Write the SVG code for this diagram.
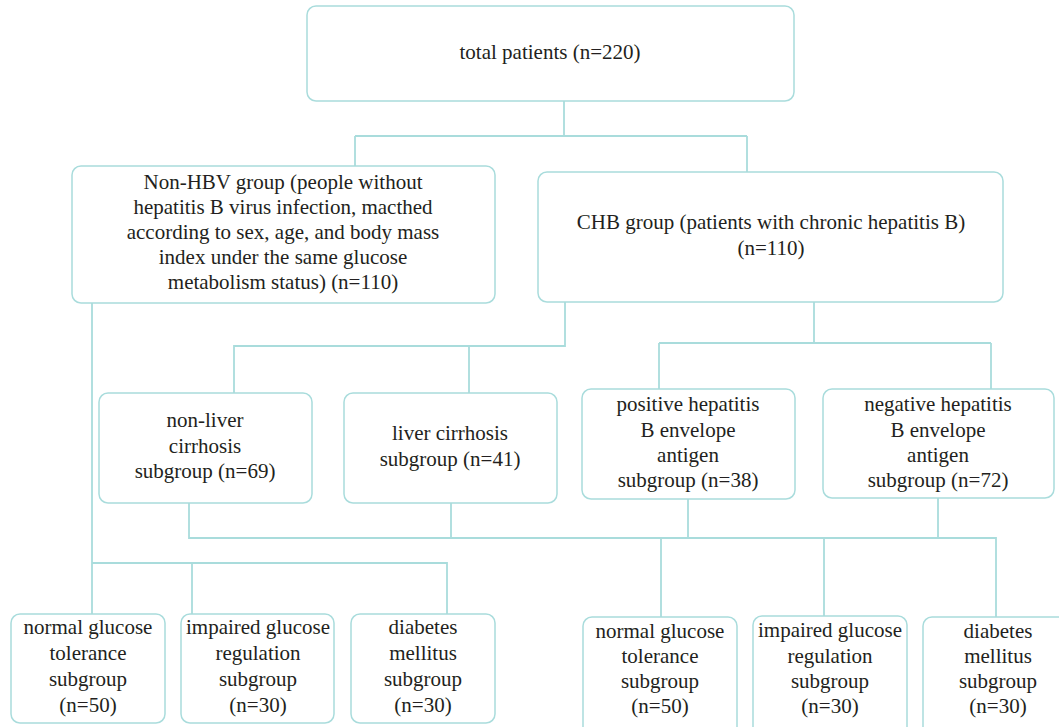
<svg xmlns="http://www.w3.org/2000/svg" width="1059" height="727" viewBox="0 0 1059 727">
<style>
.box{fill:#ffffff;stroke:#a9dcdc;stroke-width:1.5}
.ln{fill:none;stroke:#a9dcdc;stroke-width:1.8}
.t{fill:#231f20}
</style>
<rect width="1059" height="727" fill="#ffffff"/>
<g id="connectors">
<path class="ln" d="M564,101 V136 M355,136 H747 M355,136 V166 M747,136 V172"/>
<path class="ln" d="M565,302 V346 H234 V393 M469,346 V393"/>
<path class="ln" d="M814,302 V343 M659,343 H991 M659,343 V389 M991,343 V389"/>
<path class="ln" d="M92,303 V614 M92,563 H447 V614 M192,563 V614"/>
<path class="ln" d="M189,503 V538 H996 V617 M451,503 V538 M688,499 V538 M938,498 V538 M661,538 V617 M824,538 V616"/>
</g>
<g class="t" font-family="Liberation Serif, DejaVu Serif, serif" font-size="21" text-anchor="middle">
<g id="total">
<rect class="box" x="307" y="6" width="487" height="95" rx="9"/>
<text x="550" y="59">total patients (n=220)</text>
</g>
<g id="nonhbv">
<rect class="box" x="72" y="166" width="423" height="137" rx="9"/>
<text x="283" y="189">Non-HBV group (people without</text>
<text x="283" y="214">hepatitis B virus infection, macthed</text>
<text x="283" y="239">according to sex, age, and body mass</text>
<text x="283" y="264">index under the same glucose</text>
<text x="283" y="289">metabolism status) (n=110)</text>
</g>
<g id="chb">
<rect class="box" x="538" y="172" width="465" height="130" rx="9"/>
<text x="771" y="229">CHB group (patients with chronic hepatitis B)</text>
<text x="771" y="255">(n=110)</text>
</g>
<g id="nonliver">
<rect class="box" x="99" y="393" width="213" height="110" rx="9"/>
<text x="205" y="427">non-liver</text>
<text x="205" y="453">cirrhosis</text>
<text x="205" y="478">subgroup (n=69)</text>
</g>
<g id="liver">
<rect class="box" x="344" y="393" width="213" height="110" rx="9"/>
<text x="450" y="440">liver cirrhosis</text>
<text x="450" y="466">subgroup (n=41)</text>
</g>
<g id="positive">
<rect class="box" x="582" y="389" width="213" height="110" rx="9"/>
<text x="688" y="411">positive hepatitis</text>
<text x="688" y="437">B envelope</text>
<text x="688" y="462">antigen</text>
<text x="688" y="487">subgroup (n=38)</text>
</g>
<g id="negative">
<rect class="box" x="823" y="389" width="231" height="109" rx="9"/>
<text x="938" y="411">negative hepatitis</text>
<text x="938" y="437">B envelope</text>
<text x="938" y="462">antigen</text>
<text x="938" y="487">subgroup (n=72)</text>
</g>
<g id="ngt1">
<rect class="box" x="11" y="614" width="154" height="109" rx="9"/>
<text x="88" y="634">normal glucose</text>
<text x="88" y="660">tolerance</text>
<text x="88" y="686">subgroup</text>
<text x="88" y="712">(n=50)</text>
</g>
<g id="igr1">
<rect class="box" x="181" y="614" width="153" height="109" rx="9"/>
<text x="258" y="634">impaired glucose</text>
<text x="258" y="660">regulation</text>
<text x="258" y="686">subgroup</text>
<text x="258" y="712">(n=30)</text>
</g>
<g id="dm1">
<rect class="box" x="351" y="614" width="144" height="109" rx="9"/>
<text x="423" y="634">diabetes</text>
<text x="423" y="660">mellitus</text>
<text x="423" y="686">subgroup</text>
<text x="423" y="712">(n=30)</text>
</g>
<g id="ngt2">
<rect class="box" x="583" y="617" width="154" height="120" rx="9"/>
<text x="660" y="638">normal glucose</text>
<text x="660" y="663">tolerance</text>
<text x="660" y="688">subgroup</text>
<text x="660" y="713">(n=50)</text>
</g>
<g id="igr2">
<rect class="box" x="753" y="616" width="154" height="121" rx="9"/>
<text x="830" y="637">impaired glucose</text>
<text x="830" y="663">regulation</text>
<text x="830" y="688">subgroup</text>
<text x="830" y="713">(n=30)</text>
</g>
<g id="dm2">
<rect class="box" x="923" y="617" width="150" height="120" rx="9"/>
<text x="998" y="638">diabetes</text>
<text x="998" y="663">mellitus</text>
<text x="998" y="688">subgroup</text>
<text x="998" y="713">(n=30)</text>
</g>
</g>
</svg>
